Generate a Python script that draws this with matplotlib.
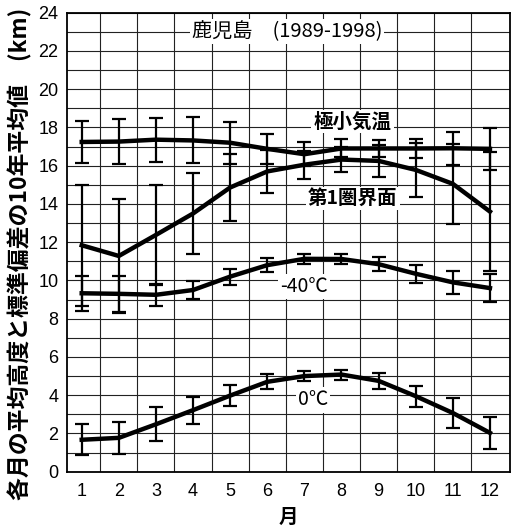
import matplotlib
matplotlib.use("Agg")
import matplotlib.pyplot as plt
import numpy as np

plt.rcParams['font.family'] = ['Noto Sans CJK JP', 'DejaVu Sans']

months = [1, 2, 3, 4, 5, 6, 7, 8, 9, 10, 11, 12]

tmin_mean = [17.24, 17.26, 17.36, 17.32, 17.2, 16.88, 16.6, 16.9, 16.9, 16.9, 16.91, 16.88]
tmin_sd = [1.12, 1.19, 1.15, 1.2, 1.1, 0.8, 0.62, 0.47, 0.43, 0.5, 0.87, 1.1]

trop_mean = [11.84, 11.28, 12.38, 13.5, 14.86, 15.7, 16.05, 16.32, 16.25, 15.78, 15.05, 13.6]
trop_sd = [3.15, 2.98, 2.6, 2.1, 1.75, 1.14, 0.72, 0.64, 0.82, 1.4, 2.1, 3.1]

m40_mean = [9.33, 9.3, 9.25, 9.5, 10.2, 10.8, 11.13, 11.12, 10.85, 10.35, 9.9, 9.6]
m40_sd = [0.92, 0.95, 0.57, 0.45, 0.42, 0.37, 0.25, 0.25, 0.35, 0.47, 0.62, 0.75]

z0_mean = [1.67, 1.77, 2.48, 3.22, 3.98, 4.7, 5.0, 5.08, 4.75, 3.95, 3.07, 2.03]
z0_sd = [0.8, 0.84, 0.88, 0.7, 0.56, 0.39, 0.26, 0.26, 0.43, 0.55, 0.77, 0.85]

yticks = list(range(0, 25, 2))

fig = plt.figure(figsize=(5.22, 5.28), dpi=100)
ax = fig.add_axes([0.1278, 0.1066, 0.977 - 0.1278, 0.976 - 0.1066])

ax.set_xlim(0.596, 12.54)
ax.set_ylim(0, 24)

# grid
ax.set_yticks(yticks)
ax.set_yticks(range(1, 24, 2), minor=True)
ax.set_xticks(months)
ax.set_xticks(np.arange(1.5, 12.0, 1.0), minor=True)
ax.grid(which='minor', axis='both', color='#222222', linewidth=0.8)
ax.grid(which='major', axis='y', color='#222222', linewidth=0.8)
ax.tick_params(which='both', length=0)
ax.tick_params(axis='both', labelsize=13)
for lbl in ax.get_xticklabels() + ax.get_yticklabels():
    lbl.set_fontfamily(['Liberation Sans', 'DejaVu Sans'])
ax.tick_params(axis='x', pad=8)
ax.tick_params(axis='y', pad=6)
for s in ax.spines.values():
    s.set_linewidth(1.3)

def series(mean, sd):
    ax.errorbar(months, mean, yerr=sd, color='black', linewidth=3.2,
                elinewidth=1.6, capsize=5, capthick=1.6, zorder=3)

series(tmin_mean, tmin_sd)
series(trop_mean, trop_sd)
series(m40_mean, m40_sd)
series(z0_mean, z0_sd)

bbox = dict(facecolor='white', edgecolor='none', pad=1.5)
ax.text(6.53, 23.0, '鹿児島　(1989-1998)', ha='center', va='center', fontsize=14.5,
        bbox=bbox, zorder=4)
ax.text(8.3, 18.3, '極小気温', ha='center', va='center', fontsize=14,
        fontweight='bold', bbox=bbox, zorder=4)
ax.text(8.3, 14.3, '第1圏界面', ha='center', va='center', fontsize=14,
        fontweight='bold', bbox=bbox, zorder=4)
ax.text(7.0, 9.67, '-40℃', ha='center', va='center', fontsize=14,
        bbox=bbox, zorder=4)
ax.text(7.23, 3.75, '0℃', ha='center', va='center', fontsize=14,
        bbox=bbox, zorder=4)

ax.set_xlabel('月', fontsize=14, fontweight='bold', labelpad=6)
fig.text(0.038, 0.52, '各月の平均高度と標準偏差の10年平均値　(km)', rotation=90,
         ha='center', va='center', fontsize=16.5, fontweight='bold')

fig.savefig('out.png', dpi=100)
